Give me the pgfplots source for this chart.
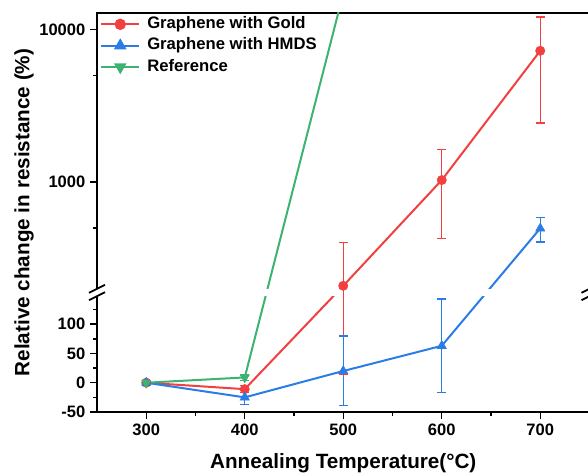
\documentclass[border=0pt]{standalone}
\usepackage{fontspec}
\setmainfont{Liberation Sans}
\usepackage{pgfplots}
\pgfplotsset{compat=1.18}
\usepgflibrary{fpu}
\definecolor{cred}{RGB}{242,64,64}
\definecolor{cblue}{RGB}{43,124,229}
\definecolor{cgreen}{RGB}{60,179,113}
\newcommand{\ebar}[4]{\addplot[#1, line width=0.95pt, mark=-, mark size=3.5pt, mark options={solid, line width=0.95pt}, forget plot] coordinates {(#2,#3) (#2,#4)};}
\begin{document}
\begin{tikzpicture}
\begin{axis}[
  at={(0,0)}, anchor=south west,
  scale only axis, width=369.375pt, height=299.25pt,
  xmin=250, xmax=750, ymin=-50, ymax=12820,
  y coord trafo/.code={%
    \begingroup
    \pgfkeys{/pgf/fpu=true,/pgf/fpu/output format=fixed}%
    \pgfmathparse{(#1<175)*(#1) + (1-(#1<175))*(342.7+113.18*(ln(max(#1,1))-6.907755))}%
    \pgfmathsmuggle\pgfmathresult
    \endgroup
  },
  clip mode=individual,
  axis line style={line width=1.5pt},
  tick pos=left, tick align=outside,
  major tick length=5.25pt, minor tick length=3pt,
  every tick/.style={black, line width=1.1pt},
  xtick={300,400,500,600,700},
  xticklabels={300,400,500,600,700},
  minor xtick={350,450,550,650},
  ytick={-50,0,50,100,1000,10000},
  yticklabels={-50,0,50,100,1000,10000},
  minor ytick={-25,25,75,125,500,5000},
  tick label style={font=\fontsize{12.4}{14}\selectfont\bfseries},
  xlabel={Annealing Temperature(°C)},
  ylabel={Relative change in resistance (\%)},
  label style={font=\fontsize{15.5}{18}\selectfont\bfseries},
  xlabel style={at={([yshift=-42.5pt]axis description cs:0.5,0)}, anchor=base},
  ylabel style={at={([xshift=-54.75pt]axis description cs:0,0.5)}, anchor=center},
  legend style={at={([xshift=2.25pt,yshift=-2.5pt]axis description cs:0,1)}, anchor=north west,
    draw=none, fill=none, inner sep=0pt,
    font=\fontsize{12.5}{15}\selectfont\bfseries,
    nodes={inner sep=0pt, text height=9pt, text depth=2.6pt},
    row sep=4.4pt,
    /tikz/every odd column/.append style={column sep=5.25pt}},
  legend cell align=left,
  legend image code/.code={\draw[mark repeat=2, mark phase=2] plot coordinates {(0pt,0pt) (14.25pt,0pt) (28.5pt,0pt)};},
]
% connecting lines
\addplot[cred, line width=1.5pt, forget plot] coordinates {(300,0) (400,-11) (500,209) (600,1030) (700,7250)};
\addplot[cblue, line width=1.5pt, forget plot] coordinates {(300,0) (400,-25) (500,20) (600,63) (700,497)};
\addplot[cgreen, line width=1.5pt, forget plot] coordinates {(300,0) (400,9) (500,17200) (600,100000) (700,1000000)};
% axis break band
\fill[white] (axis description cs:-0.03,0.2902) rectangle (axis description cs:1.03,0.3088);
\draw[line width=1.3pt] ([xshift=-6pt,yshift=-3pt]axis description cs:0,0.2902) -- ([xshift=6pt,yshift=3pt]axis description cs:0,0.2902);
\draw[line width=1.3pt] ([xshift=-6pt,yshift=-3pt]axis description cs:0,0.3088) -- ([xshift=6pt,yshift=3pt]axis description cs:0,0.3088);
\draw[line width=1.3pt] ([xshift=-6pt,yshift=-3pt]axis description cs:1,0.2902) -- ([xshift=6pt,yshift=3pt]axis description cs:1,0.2902);
\draw[line width=1.3pt] ([xshift=-6pt,yshift=-3pt]axis description cs:1,0.3088) -- ([xshift=6pt,yshift=3pt]axis description cs:1,0.3088);
% error bars
\ebar{cred}{300}{-3}{3}
\ebar{cred}{400}{-17}{-5}
\ebar{cred}{500}{15}{403}
\ebar{cred}{600}{428}{1630}
\ebar{cred}{700}{2440}{12060}
\ebar{cblue}{300}{-3}{3}
\ebar{cblue}{400}{-37}{-13}
\ebar{cblue}{500}{-39}{80}
\ebar{cblue}{600}{-17}{143}
\ebar{cblue}{700}{405}{585}
\ebar{cgreen}{300}{-3}{3}
\ebar{cgreen}{400}{4}{14}
% markers
\addplot[only marks, mark=*, mark size=3.5pt, cred, forget plot] coordinates {(300,0) (400,-11) (500,209) (600,1030) (700,7250)};
\addplot[only marks, mark=triangle*, mark size=4pt, cblue, forget plot] coordinates {(300,0) (400,-25) (500,20) (600,63) (700,497)};
\addplot[only marks, mark=triangle*, mark size=4pt, mark options={rotate=180}, cgreen, forget plot] coordinates {(300,0) (400,9) (500,17200)};
\addlegendimage{cred, line width=1.5pt, mark=*, mark size=3.5pt}
\addlegendentry{Graphene with Gold}
\addlegendimage{cblue, line width=1.5pt, mark=triangle*, mark size=4pt}
\addlegendentry{Graphene with HMDS}
\addlegendimage{cgreen, line width=1.5pt, mark=triangle*, mark size=4pt, mark options={rotate=180}}
\addlegendentry{Reference}
\end{axis}
\pgfresetboundingbox
\path[use as bounding box] (-72.75pt,-46.5pt) rectangle (368.25pt,309pt);
\end{tikzpicture}
\end{document}
